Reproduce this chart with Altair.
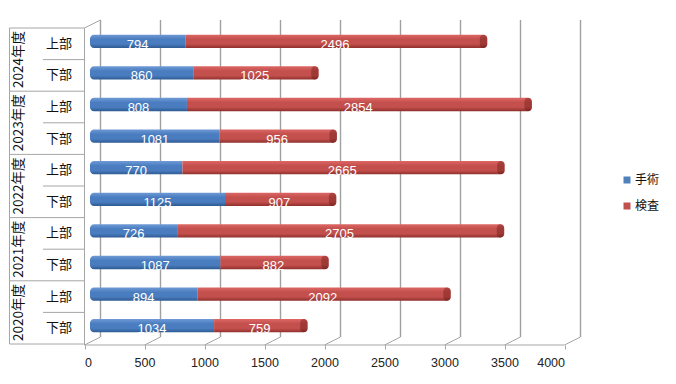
import altair as alt
import pandas as pd

# ---- data (top to bottom) ----
years = ["2024年度", "2024年度", "2023年度", "2023年度", "2022年度", "2022年度",
         "2021年度", "2021年度", "2020年度", "2020年度"]
halves = ["上部", "下部", "上部", "下部", "上部", "下部", "上部", "下部", "上部", "下部"]
surgery = [794, 860, 808, 1081, 770, 1125, 726, 1087, 894, 1034]
exam = [2496, 1025, 2854, 956, 2665, 907, 2705, 882, 2092, 759]
series_names = ["手術", "検査"]
x_ticks = [0, 500, 1000, 1500, 2000, 2500, 3000, 3500, 4000]

BLUE = "#4f81bd"
RED = "#c0504d"
CJK = "Noto Sans CJK JP"
NUM = "Liberation Sans"

rows = []
for r, (yr, hf, s, e) in enumerate(zip(years, halves, surgery, exam)):
    rows.append(dict(r=r, year=yr, half=hf, series="手術", start=0, end=s, mid=s / 2,
                     val=s, pos=r + 0.5, y0=r + 0.5 - 0.21, y1=r + 0.5 + 0.21))
    rows.append(dict(r=r, year=yr, half=hf, series="検査", start=s, end=s + e, mid=s + e / 2,
                     val=e, pos=r + 0.5, y0=r + 0.5 - 0.21, y1=r + 0.5 + 0.21))
df = pd.DataFrame(rows)
cats = pd.DataFrame(dict(half=halves, pos=[r + 0.5 for r in range(len(halves))]))
yrs = pd.DataFrame(dict(year=years[::2], pos=[2 * g + 1 for g in range(len(years) // 2)]))
bounds = pd.DataFrame(dict(b=list(range(len(halves) + 1))))
bounds["major"] = bounds["b"] % 2 == 0
ticks = pd.DataFrame(dict(v=x_ticks))
front = pd.DataFrame(dict(a=[0], b=[4000]))

xs = alt.Scale(domain=[0, 4000], nice=False, zero=True)
ys = alt.Scale(domain=[0, 10], reverse=True, nice=False, zero=False)
x_axis = alt.Axis(values=x_ticks, format="d", grid=False, domain=False, tickOffset=-5.5,
                  tickSize=4, tickColor="#a6a6a6", labelFont=NUM,
                  labelFontSize=12.5, labelColor="#222", labelPadding=7,
                  offset=1, title=None)

def grad(c_top, c_mid, c_bot):
    return alt.LinearGradient(
        gradient="linear", x1=0, x2=0, y1=0, y2=1,
        stops=[alt.GradientStop(offset=0, color=c_top),
               alt.GradientStop(offset=0.35, color=c_mid),
               alt.GradientStop(offset=0.7, color=c_mid),
               alt.GradientStop(offset=1, color=c_bot)])

blue_g = grad("#6f9ad6", "#4a7dc0", "#2d5a92")
red_g = grad("#dc6764", "#c4504d", "#8f302d")
cap_g = grad("#b24542", "#9e3936", "#7a2422")

# gridlines on back wall
grid = alt.Chart(ticks).mark_rule(color="#a0a0a0", strokeWidth=1.4, xOffset=10.5).encode(
    x=alt.X("v:Q", scale=xs, axis=x_axis, title=None), y=alt.value(-8), y2=alt.value(309))
# floor slants
slant = alt.Chart(ticks).mark_rule(color="#a6a6a6", strokeWidth=1, xOffset=-5.5, x2Offset=10.5).encode(
    x=alt.X("v:Q", scale=xs, title=None), x2="v:Q", y=alt.value(317), y2=alt.value(309))
# top slant of category wall
top_slant = alt.Chart(front).mark_rule(color="#a6a6a6", strokeWidth=1, xOffset=-5.5, x2Offset=10.5).encode(
    x=alt.X("a:Q", scale=xs, title=None), x2="a:Q", y=alt.value(0), y2=alt.value(-8))
# front axis line and left front edge
front_line = alt.Chart(front).mark_rule(color="#a6a6a6", strokeWidth=1, xOffset=-5.5, x2Offset=-5.5).encode(
    x=alt.X("a:Q", scale=xs, title=None), x2="b:Q", y=alt.value(317))
front_edge = alt.Chart(front).mark_rule(color="#a6a6a6", strokeWidth=1, xOffset=-5.5).encode(
    x=alt.X("a:Q", scale=xs, title=None), y=alt.value(0), y2=alt.value(317))
left_edge = alt.Chart(front).mark_rule(color="#a6a6a6", strokeWidth=1).encode(
    x=alt.value(-80.5), y=alt.value(0), y2=alt.value(316))

sep_major = alt.Chart(bounds).transform_filter("datum.major").mark_rule(color="#a6a6a6", strokeWidth=1).encode(
    x=alt.value(-80.5), x2=alt.value(-5.5), y=alt.Y("b:Q", scale=ys, axis=None))
sep_minor = alt.Chart(bounds).transform_filter("!datum.major").mark_rule(color="#a6a6a6", strokeWidth=1).encode(
    x=alt.value(-47), x2=alt.value(-5.5), y=alt.Y("b:Q", scale=ys, axis=None))

cat_text = alt.Chart(cats).mark_text(font=CJK, fontSize=13, color="#111").encode(
    x=alt.value(-31), y=alt.Y("pos:Q", scale=ys, axis=None), text="half:N")
yr_text = alt.Chart(yrs).mark_text(font=CJK, fontSize=13.5, color="#111", angle=270).encode(
    x=alt.value(-71), y=alt.Y("pos:Q", scale=ys, axis=None), text="year:N")

blue_bar = alt.Chart(df).transform_filter("datum.series == '手術'").mark_bar(
    color=blue_g, cornerRadiusTopLeft=4, cornerRadiusBottomLeft=4, yOffset=-2.5, y2Offset=-2.5).encode(
    x=alt.X("start:Q", scale=xs, title=None), x2="end:Q",
    y=alt.Y("y0:Q", scale=ys, axis=None), y2="y1:Q")
red_bar = alt.Chart(df).transform_filter("datum.series == '検査'").mark_bar(
    color=red_g, cornerRadiusTopRight=4, cornerRadiusBottomRight=4, yOffset=-2.5, y2Offset=-2.5,
    x2Offset=1.5).encode(
    x=alt.X("start:Q", scale=xs, title=None), x2="end:Q",
    y=alt.Y("y0:Q", scale=ys, axis=None), y2="y1:Q")
cap = alt.Chart(df).transform_filter("datum.series == '検査'").mark_bar(
    color=cap_g, cornerRadius=4, xOffset=-5, x2Offset=2.5, yOffset=-2.5, y2Offset=-2.5).encode(
    x=alt.X("end:Q", scale=xs, title=None), x2="end:Q",
    y=alt.Y("y0:Q", scale=ys, axis=None), y2="y1:Q")

labels = alt.Chart(df).mark_text(font=NUM, fontSize=13, color="white", dy=1).encode(
    x=alt.X("mid:Q", scale=xs, title=None), y=alt.Y("pos:Q", scale=ys, axis=None), text="val:Q")

legend_layer = alt.Chart(df).mark_point(filled=True, opacity=0).encode(
    x=alt.X("start:Q", scale=xs, title=None), y=alt.Y("pos:Q", scale=ys, axis=None),
    color=alt.Color("series:N", scale=alt.Scale(domain=series_names, range=[BLUE, RED]),
                    legend=alt.Legend(title=None, orient="none", legendX=531, legendY=146,
                                      symbolType="square", symbolSize=49, symbolOpacity=1,
                                      symbolStrokeWidth=0, labelFont=CJK, labelFontSize=12,
                                      labelColor="#111", rowPadding=14, padding=0,
                                      labelOffset=2)))

chart = alt.layer(grid, slant, top_slant, front_edge, left_edge, sep_major, sep_minor,
                  front_line, cat_text, yr_text, blue_bar, red_bar, cap, labels, legend_layer).properties(
    width=480, height=316,
    autosize=alt.AutoSizeParams(type="none"),
    padding={"left": 82, "top": 20, "right": 98, "bottom": 32},
).configure_view(stroke=None)

chart.save("out.html", embed_options={"renderer": "svg", "actions": False})
